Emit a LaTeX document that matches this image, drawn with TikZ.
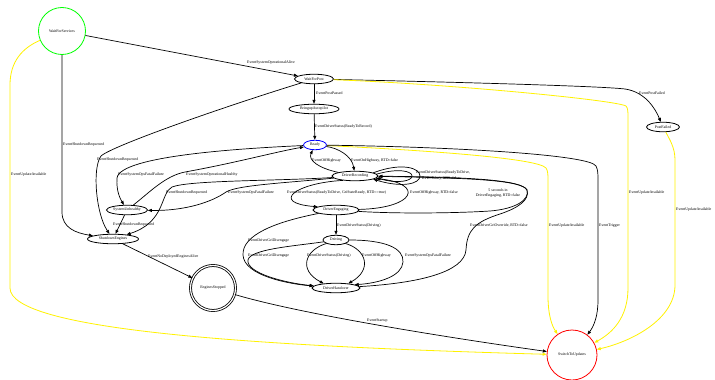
\documentclass[tikz,border=0pt]{standalone}
\usepackage{fontspec}
\setmainfont{Liberation Serif}
\usetikzlibrary{shapes.geometric,arrows.meta}

\begin{document}
\begin{tikzpicture}[x=1pt,y=-1pt,
  tiny/.style={font=\fontsize{3.9}{4.6}\selectfont},
  state/.style={ellipse,draw,line width=0.8pt,inner sep=0pt,minimum height=9.5pt,tiny},
  roundstate/.style={circle,draw,line width=0.8pt,inner sep=0pt,tiny},
  tr/.style={draw,line width=0.7pt,-{Triangle[length=4pt,width=3pt]}},
  upd/.style={tr,draw=yellow,line width=0.8pt},
  lbl/.style={anchor=west,inner sep=0pt,tiny}]

\useasboundingbox[fill=white] (0,0) rectangle (715,380);

% states
\node[roundstate,draw=green,minimum size=47pt] (wfs) at (62,31) {WaitForServices};
\node[state,minimum width=39pt] (wfp) at (314,79) {WaitForPost};
\node[state,minimum width=50pt] (bap) at (314,109) {BringupAutopilot};
\node[state,draw=blue,minimum width=23pt] (ready) at (315,145) {Ready};
\node[state,minimum width=46pt] (drec) at (355,176) {DriverRecording};
\node[state,minimum width=46pt] (deng) at (336,210) {DriverEngaging};
\node[state,minimum width=26pt] (drv) at (336,240) {Driving};
\node[state,minimum width=48pt] (dh) at (336,288) {DriverHandover};
\node[state,minimum width=41pt] (su) at (127,210) {SystemUnhealthy};
\node[state,minimum width=51pt] (sde) at (113,239) {ShutdownEngines};
\node[roundstate,double,double distance=1.2pt,minimum size=45pt] (es) at (213,288) {EnginesStopped};
\node[state,minimum width=33pt] (pf) at (663,127) {PostFailed};
\node[roundstate,draw=red,minimum size=50pt] (stu) at (572,355) {SwitchToUpdates};

% transitions out of WaitForServices
\draw[tr] (wfs) -- (wfp);
\draw[tr] (wfs) -- (62,212) .. controls (62,228) and (76,233) .. (sde);
\draw[upd] (wfs) .. controls (22,48) and (10,62) .. (10,85) -- (10,288) .. controls (10,330) and (250,346) .. (stu);

% transitions out of WaitForPost
\draw[tr] (wfp) -- (bap);
\draw[tr] (wfp) .. controls (450,82) and (600,86) .. (625,89) .. controls (645,92) and (655,108) .. (pf);
\draw[upd] (wfp) .. controls (450,84) and (615,100) .. (626,106) .. controls (628,108) and (628,112) .. (628,118) -- (628,288) .. controls (628,318) and (612,333) .. (stu);
\draw[tr] (wfp) .. controls (220,108) and (112,146) .. (101,156) .. controls (92,168) and (96,214) .. (sde);

\draw[tr] (bap) -- (ready);

% transitions around Ready
\draw[tr] (ready) .. controls (338,148) and (352,156) .. (drec);
\draw[tr] (drec) .. controls (318,168) and (308,160) .. (ready);
\draw[tr] (ready) .. controls (250,148) and (120,155) .. (117,178) .. controls (116,192) and (121,200) .. (su);
\draw[tr] (su) .. controls (150,192) and (165,176) .. (185,172) .. controls (235,163) and (275,152) .. (ready);
\draw[upd] (ready) .. controls (420,150) and (538,158) .. (546,168) .. controls (548,171) and (548,175) .. (548,180) -- (548,296) .. controls (548,315) and (552,326) .. (stu);
\draw[tr] (ready) .. controls (460,147) and (590,155) .. (596,166) .. controls (598,170) and (598,174) .. (598,180) -- (598,300) .. controls (598,316) and (594,326) .. (stu);

% transitions around DriverRecording
\draw[tr] (drec.10) .. controls (402,162) and (420,168) .. (420,176) .. controls (420,184) and (402,188) .. (drec.-10);
\draw[tr] (drec.5) .. controls (398,168) and (412,171) .. (412,176) .. controls (412,181) and (398,184) .. (drec.-5);
\draw[tr] (drec.200) .. controls (295,183) and (270,203) .. (deng.170);
\draw[tr] (deng) .. controls (415,208) and (425,184) .. (drec);
\draw[tr] (deng) .. controls (400,214) and (460,213) .. (490,211) .. controls (515,209) and (530,200) .. (527,190) .. controls (522,180) and (470,178) .. (drec);
\draw[tr] (dh) .. controls (420,283) and (464,272) .. (466,250) .. controls (467,230) and (475,222) .. (500,214) .. controls (518,208) and (530,200) .. (527,190) .. controls (522,180) and (470,177) .. (drec);
\draw[tr] (drec) .. controls (280,181) and (190,180) .. (172,187) .. controls (160,193) and (166,222) .. (sde);
\draw[tr] (drec) .. controls (285,183) and (238,185) .. (226,192) .. controls (212,202) and (185,211) .. (su);

% shutdown chain
\draw[tr] (su) -- (sde);
\draw[tr] (sde) -- (es);
\draw[tr] (es) .. controls (300,314) and (450,338) .. (stu);

% engaging, driving and handover
\draw[tr] (deng) -- (drv);
\draw[tr] (deng) .. controls (275,222) and (242,235) .. (243,255) .. controls (244,276) and (290,284) .. (dh);
\draw[tr] (drv) .. controls (295,246) and (250,249) .. (248,260) .. controls (246,273) and (285,283) .. (dh);
\draw[tr] (drv.200) .. controls (305,250) and (298,270) .. (dh.160);
\draw[tr] (drv.-20) .. controls (367,250) and (372,270) .. (dh.20);
\draw[tr] (drv.east) .. controls (385,240) and (404,248) .. (403,262) .. controls (402,276) and (380,283) .. (dh.10);

% PostFailed
\draw[upd] (pf) .. controls (670,140) and (675,148) .. (675,160) -- (675,285) .. controls (675,320) and (630,342) .. (stu);

% transition labels
\node[lbl] (l1) at (247,63) {EventSystemOperationalAlive};
\node[lbl] (l2) at (63,145) {EventShutdownRequested};
\node[lbl] (l3) at (11,175) {EventUpdateAvailable};
\node[lbl] (l4) at (316,93) {EventPostPassed};
\node[lbl] (l5) at (639,93) {EventPostFailed};
\node[lbl] (l6) at (629,193) {EventUpdateAvailable};
\node[lbl] (l7) at (315,127) {EventDriverStatus(ReadyToRecord)};
\node[lbl] (l8) at (97,160) {EventShutdownRequested};
\node[lbl] (l9) at (312,161) {EventOffHighway};
\node[lbl] (l10) at (351,161) {EventOnHighway, RTD=false};
\node[lbl] (l11) at (118,175) {EventSystemOpsFatalFailure};
\node[lbl] (l12) at (186,175) {EventSystemOperationalHealthy};
\node[lbl] (l13) at (549,226) {EventUpdateAvailable};
\node[lbl] (l14) at (599,226) {EventTrigger};
\node[lbl] (l15) at (416,173) {EventDriverStatus(ReadyToDrive,};
\node[lbl] (l16) at (422,179) {RTD=false), RTD=false};
\node[lbl] (l17) at (287,193) {EventDriverStatus(ReadyToDrive, GriStateReady, RTD==true)};
\node[lbl] (l18) at (410,193) {EventOffHighway, RTD=false};
\node[tiny,inner sep=0pt,align=center] (l19) at (498,193) {5 seconds in\\DriverEngaging, RTD=false};
\node[lbl] (l20) at (166,193) {EventShutdownRequested};
\node[lbl] (l21) at (228,193) {EventSystemOpsFatalFailure};
\node[lbl] (l22) at (113,225) {EventShutdownRequested};
\node[lbl] (l23) at (337,226) {EventDriverStatus(Driving)};
\node[lbl] (l24) at (470,225) {EventDriverGriOverride, RTD=false};
\node[lbl] (l25) at (248,241) {EventDriverGriDisengage};
\node[lbl] (l26) at (248,256) {EventDriverGriDisengage};
\node[lbl] (l27) at (307,256) {EventDriverStatus(Driving)};
\node[lbl] (l28) at (362,256) {EventOffHighway};
\node[lbl] (l29) at (405,256) {EventSystemOpsFatalFailure};
\node[lbl] (l30) at (148,257) {EventNoDeployedEnginesAlive};
\node[lbl] (l31) at (367,321) {EventStartup};
\node[lbl] (l32) at (676,210) {EventUpdateAvailable};
\end{tikzpicture}
\end{document}
